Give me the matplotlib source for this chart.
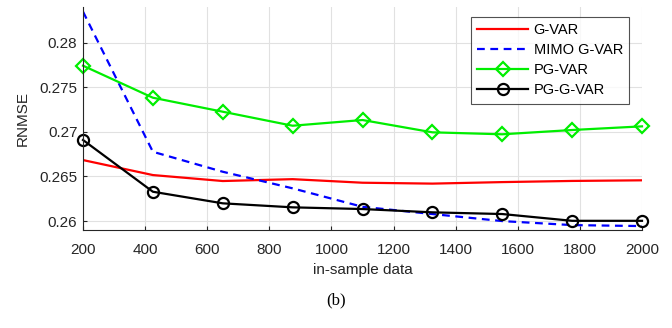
import matplotlib
matplotlib.use("Agg")
import matplotlib.pyplot as plt

x = [200, 425, 650, 875, 1100, 1325, 1550, 1775, 2000]
g_var = [0.26684, 0.26516, 0.26449, 0.26470, 0.26430, 0.26420, 0.26437, 0.26450, 0.26457]
mimo_g_var = [0.28348, 0.26777, 0.26553, 0.26367, 0.26160, 0.26079, 0.26000, 0.25955, 0.25944]
pg_var = [0.27742, 0.27383, 0.27226, 0.27069, 0.27133, 0.26995, 0.26973, 0.27021, 0.27062]
pg_g_var = [0.26909, 0.26329, 0.26199, 0.26154, 0.26135, 0.26098, 0.26079, 0.26003, 0.26003]
labels = ["G-VAR", "MIMO G-VAR", "PG-VAR", "PG-G-VAR"]
xticks = [200, 400, 600, 800, 1000, 1200, 1400, 1600, 1800, 2000]
yticks = [0.26, 0.265, 0.27, 0.275, 0.28]
ytick_labels = ["0.26", "0.265", "0.27", "0.275", "0.28"]

plt.rcParams['font.family'] = ['Liberation Sans', 'DejaVu Sans']
fig = plt.figure(figsize=(6.72, 3.28), dpi=100)
ax = fig.add_axes([83/672, 1-230/328, (642-83)/672, (230-7)/328])

lw = 1.6
ax.plot(x, g_var, color='#ff0000', lw=lw, label=labels[0])
ax.plot(x, mimo_g_var, color='#0000ff', lw=lw, ls=(0, (3.5, 2.5)), label=labels[1])
ax.plot(x, pg_var, color='#00ee00', lw=lw, marker='D', ms=7.5, mfc='none', mew=1.6,
        label=labels[2], clip_on=False)
ax.plot(x, pg_g_var, color='black', lw=lw, marker='o', ms=8, mfc='none', mew=1.6,
        label=labels[3], clip_on=False)

ax.set_xlim(200, 2000)
ax.set_ylim(0.259, 0.284)
ax.set_xticks(xticks)
ax.set_yticks(yticks)
ax.set_yticklabels(ytick_labels)
ax.grid(True, color='#e1e1e1', lw=0.8)
ax.set_axisbelow(True)
for s in ['top', 'right']:
    ax.spines[s].set_visible(False)
for s in ['left', 'bottom']:
    ax.spines[s].set_color('#262626')
    ax.spines[s].set_linewidth(0.8)
ax.tick_params(direction='in', length=3, labelsize=11, colors='#262626', labelcolor='#262626', pad=4)
ax.tick_params(axis='x', pad=9)
ax.set_xlabel("in-sample data", fontsize=11, color='#262626', labelpad=5)
ax.set_ylabel("RNMSE", fontsize=11, color='#262626', labelpad=7)

leg = ax.legend(loc='upper right', bbox_to_anchor=(629/672, 1-17/328), bbox_transform=fig.transFigure,
                fontsize=10.5, frameon=True, fancybox=False, handlelength=3.5, borderpad=0.42,
                labelspacing=0.42, handletextpad=0.35, borderaxespad=0)
leg.get_frame().set_edgecolor('#262626')
leg.get_frame().set_linewidth(0.8)

fig.text(336/672, 1-300/328, "(b)", ha='center', va='center', fontsize=12,
         family=['Liberation Serif', 'DejaVu Serif'])

fig.savefig("out.png", dpi=100)
